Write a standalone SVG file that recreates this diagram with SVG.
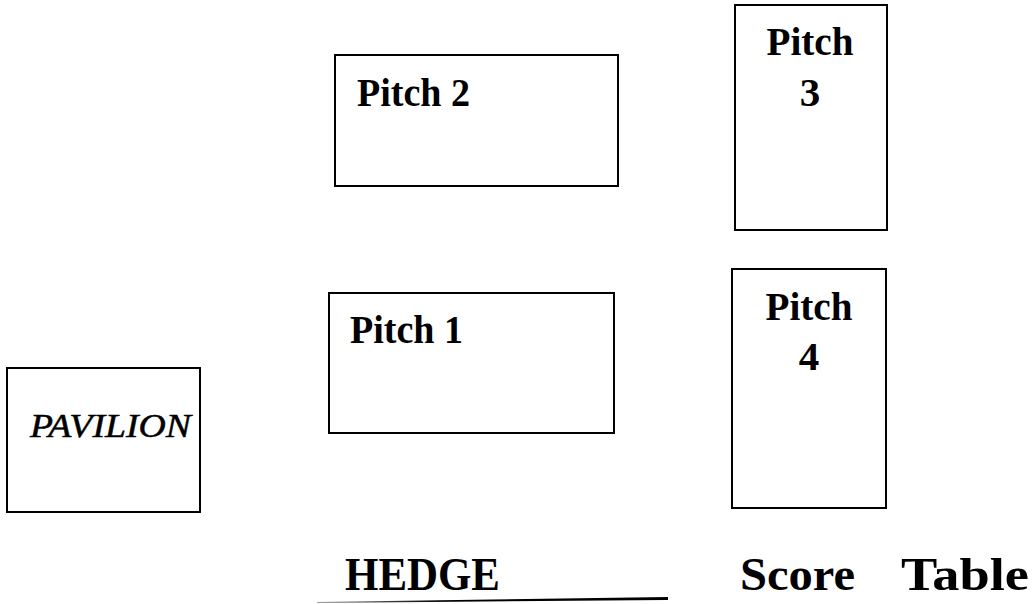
<svg xmlns="http://www.w3.org/2000/svg" width="1032" height="604" viewBox="0 0 1032 604">
  <style>
    .box { fill: #ffffff; stroke: #000000; stroke-width: 2; }
    .lbl { font-family: "Liberation Serif", "DejaVu Serif", serif; font-weight: bold; font-size: 41px; fill: #000000; }
    .mid { text-anchor: middle; }
    .pav { font-family: "Liberation Serif", "DejaVu Serif", serif; font-style: italic; font-size: 33px; fill: #000000; stroke: #000000; stroke-width: 0.5; }
    .big { font-family: "Liberation Serif", "DejaVu Serif", serif; font-weight: bold; font-size: 47px; fill: #000000; }
  </style>
  <defs>
    <linearGradient id="hedgeGrad" x1="0" y1="0" x2="1" y2="0">
      <stop offset="0" stop-color="#9a9a9a"/>
      <stop offset="0.35" stop-color="#000000"/>
      <stop offset="1" stop-color="#000000"/>
    </linearGradient>
  </defs>
  <rect width="1032" height="604" fill="#ffffff"/>

  <g id="pitch2">
    <rect class="box" x="335" y="55" width="283" height="131"/>
    <text class="lbl" x="357" y="106" textLength="113" lengthAdjust="spacingAndGlyphs">Pitch 2</text>
  </g>

  <g id="pitch3">
    <rect class="box" x="735" y="5" width="152" height="225"/>
    <text class="lbl mid" x="810" y="55" textLength="87" lengthAdjust="spacingAndGlyphs">Pitch</text>
    <text class="lbl mid" x="810" y="106">3</text>
  </g>

  <g id="pitch1">
    <rect class="box" x="329" y="293" width="285" height="140"/>
    <text class="lbl" x="350" y="343" textLength="113" lengthAdjust="spacingAndGlyphs">Pitch 1</text>
  </g>

  <g id="pitch4">
    <rect class="box" x="732" y="269" width="154" height="239"/>
    <text class="lbl mid" x="809" y="320" textLength="87" lengthAdjust="spacingAndGlyphs">Pitch</text>
    <text class="lbl mid" x="809" y="370">4</text>
  </g>

  <g id="pavilion">
    <rect class="box" x="7" y="368" width="193" height="144"/>
    <text class="pav" x="30" y="437" textLength="161" lengthAdjust="spacingAndGlyphs">PAVILION</text>
  </g>

  <g id="hedge">
    <text class="big" x="345" y="590" textLength="155" lengthAdjust="spacingAndGlyphs">HEDGE</text>
    <polygon points="317,602 668,597 668,600 317,603" fill="url(#hedgeGrad)"/>
  </g>

  <g id="score-table">
    <text class="big" x="740" y="590" textLength="115" lengthAdjust="spacingAndGlyphs">Score</text>
    <text class="big" x="901" y="590" textLength="128" lengthAdjust="spacingAndGlyphs">Table</text>
  </g>

  <g id="connectors"></g>
</svg>
